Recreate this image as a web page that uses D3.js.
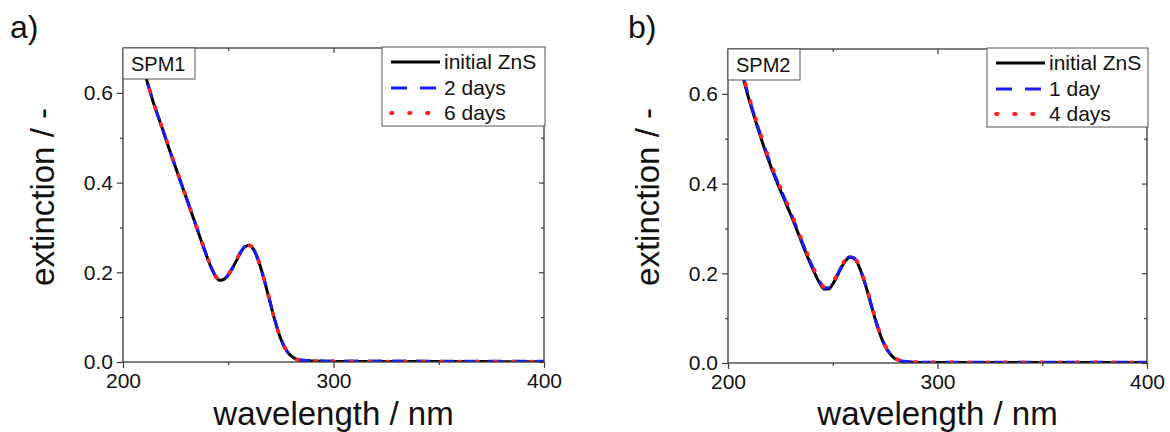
<!DOCTYPE html>
<html>
<head>
<meta charset="utf-8">
<script src="https://cdn.jsdelivr.net/npm/d3@7/dist/d3.min.js"></script>
<style>
  html, body { margin: 0; padding: 0; background: #fff; }
  svg { display: block; font-family: "Liberation Sans", Arial, sans-serif; }
</style>
</head>
<body>
<svg id="chart" width="1170" height="432"></svg>
<script>
// ---------- data ----------
const xMajorTicks = [200, 300, 400];
const xMinorTicks = [250, 350];
const yMajorTicks = [0.0, 0.2, 0.4, 0.6];
const yMinorTicks = [0.1, 0.3, 0.5];
const xDomain = [200, 400];
const yDomain = [0, 0.7];

const panelLabels = ["a)", "b)"];
const sampleNames = ["SPM1", "SPM2"];
const seriesNamesA = ["initial ZnS", "2 days", "6 days"];
const seriesNamesB = ["initial ZnS", "1 day", "4 days"];
const xTitle = "wavelength / nm";
const yTitle = "extinction / -";

const wlA = [206,208,210,212,214,216,218,220,222,224,226,228,230,232,234,236,238,240,242,244,246,248,250,252,254,256,258,260,262,264,266,268,270,272,274,276,278,280,282,284,286,290,295,300,320,340,360,380,400];
const a_initial = [0.722,0.686,0.650,0.616,0.585,0.556,0.530,0.502,0.474,0.447,0.420,0.393,0.367,0.340,0.313,0.286,0.259,0.233,0.209,0.191,0.182,0.184,0.194,0.209,0.227,0.245,0.257,0.260,0.251,0.230,0.201,0.167,0.131,0.095,0.064,0.040,0.023,0.013,0.007,0.004,0.003,0.002,0.0015,0.0012,0.001,0.001,0.001,0.0008,0.0008];
const a_2days   = [0.724,0.688,0.651,0.617,0.586,0.557,0.531,0.503,0.475,0.448,0.421,0.394,0.368,0.341,0.314,0.287,0.260,0.234,0.210,0.192,0.183,0.185,0.195,0.210,0.228,0.246,0.258,0.261,0.252,0.231,0.202,0.168,0.132,0.096,0.065,0.041,0.024,0.014,0.008,0.005,0.004,0.003,0.0025,0.002,0.002,0.002,0.0015,0.0015,0.0015];
const a_6days   = [0.723,0.687,0.651,0.617,0.585,0.557,0.530,0.503,0.475,0.447,0.421,0.394,0.367,0.341,0.313,0.287,0.260,0.234,0.209,0.191,0.183,0.185,0.195,0.210,0.228,0.246,0.258,0.260,0.251,0.230,0.201,0.167,0.131,0.095,0.064,0.040,0.023,0.013,0.007,0.004,0.003,0.002,0.0015,0.0012,0.001,0.001,0.001,0.0008,0.0008];

const wlB = [202,204,206,208,210,212,214,216,218,220,222,224,226,228,230,232,234,236,238,240,242,244,246,248,250,252,254,256,258,260,262,264,266,268,270,272,274,276,278,280,282,284,286,290,295,300,320,340,360,380,400];
const b_initial = [0.735,0.697,0.660,0.622,0.588,0.557,0.527,0.498,0.470,0.444,0.419,0.396,0.374,0.352,0.330,0.307,0.283,0.259,0.236,0.214,0.194,0.176,0.165,0.165,0.176,0.193,0.212,0.227,0.236,0.234,0.221,0.197,0.168,0.135,0.102,0.072,0.047,0.029,0.017,0.009,0.005,0.003,0.002,0.0015,0.001,0.001,0.001,0.001,0.001,0.001,0.001];
const b_1day    = [0.737,0.700,0.663,0.626,0.592,0.561,0.531,0.502,0.474,0.448,0.423,0.400,0.378,0.356,0.334,0.311,0.287,0.263,0.240,0.218,0.198,0.180,0.168,0.168,0.178,0.195,0.214,0.229,0.237,0.235,0.222,0.198,0.169,0.136,0.103,0.073,0.048,0.030,0.018,0.010,0.006,0.004,0.003,0.002,0.0015,0.0015,0.0015,0.0015,0.0015,0.0015,0.0015];
const b_4days   = [0.739,0.702,0.665,0.628,0.594,0.563,0.533,0.504,0.476,0.450,0.425,0.402,0.380,0.358,0.336,0.313,0.289,0.265,0.242,0.220,0.199,0.181,0.169,0.169,0.179,0.196,0.215,0.230,0.238,0.236,0.223,0.199,0.170,0.137,0.104,0.074,0.049,0.031,0.018,0.010,0.006,0.004,0.003,0.002,0.0015,0.0015,0.0015,0.0015,0.0015,0.0015,0.0015];

// ---------- drawing ----------
const svg = d3.select("#chart");
const styles = [
  { color: "#000000", dash: null, legDash: null, width: 3, cap: "butt" },
  { color: "#1a1aff", dash: "14,10", legDash: "16,13", width: 3, cap: "butt" },
  { color: "#ff2020", dash: "1.5,16.5", legDash: "1.5,16.5", width: 3.8, cap: "round" }
];

const panels = [
  { id: "A", label: panelLabels[0], sample: sampleNames[0], names: seriesNamesA,
    wl: wlA, series: [a_initial, a_2days, a_6days],
    left: 123, right: 544, top: 48, bottom: 362,
    labelX: 10, legendX: 382, legendW: 163 },
  { id: "B", label: panelLabels[1], sample: sampleNames[1], names: seriesNamesB,
    wl: wlB, series: [b_initial, b_1day, b_4days],
    left: 728, right: 1147, top: 49, bottom: 363,
    labelX: 628, legendX: 987, legendW: 161 }
];

const axisColor = "#3a3a3a";

panels.forEach(p => {
  const g = svg.append("g");
  const x = d3.scaleLinear().domain(xDomain).range([p.left, p.right]);
  const y = d3.scaleLinear().domain(yDomain).range([p.bottom, p.top]);

  const clipId = "clip" + p.id;
  svg.append("clipPath").attr("id", clipId).append("rect")
    .attr("x", p.left).attr("y", p.top)
    .attr("width", p.right - p.left).attr("height", p.bottom - p.top);

  const line = d3.line()
    .x(d => x(d[0])).y(d => y(d[1]))
    .curve(d3.curveMonotoneX);
  const lg = g.append("g").attr("clip-path", `url(#${clipId})`);
  p.series.forEach((vals, i) => {
    const pts = p.wl.map((w, k) => [w, vals[k]]);
    lg.append("path")
      .datum(pts)
      .attr("d", line)
      .attr("fill", "none")
      .attr("stroke", styles[i].color)
      .attr("stroke-width", styles[i].width)
      .attr("stroke-dasharray", styles[i].dash)
      .attr("stroke-linecap", styles[i].cap)
      .attr("stroke-linejoin", "round");
  });

  const fmtY = d3.format(".1f");
  const axL = g.append("g").attr("transform", `translate(${p.left},0)`)
    .call(d3.axisLeft(y).tickValues(yMajorTicks).tickFormat(fmtY).tickSize(6).tickPadding(4));
  const axLm = g.append("g").attr("transform", `translate(${p.left},0)`)
    .call(d3.axisLeft(y).tickValues(yMinorTicks).tickFormat("").tickSize(3));
  const axB = g.append("g").attr("transform", `translate(0,${p.bottom})`)
    .call(d3.axisBottom(x).tickValues(xMajorTicks).tickFormat(d3.format("d")).tickSize(6).tickPadding(5));
  const axBm = g.append("g").attr("transform", `translate(0,${p.bottom})`)
    .call(d3.axisBottom(x).tickValues(xMinorTicks).tickFormat("").tickSize(3));
  const axT = g.append("g").attr("transform", `translate(0,${p.top})`)
    .call(d3.axisTop(x).tickValues(xMajorTicks).tickFormat("").tickSize(-5));
  const axTm = g.append("g").attr("transform", `translate(0,${p.top})`)
    .call(d3.axisTop(x).tickValues(xMinorTicks).tickFormat("").tickSize(-3));
  const axR = g.append("g").attr("transform", `translate(${p.right},0)`)
    .call(d3.axisRight(y).tickValues(yMajorTicks).tickFormat("").tickSize(-5));
  const axRm = g.append("g").attr("transform", `translate(${p.right},0)`)
    .call(d3.axisRight(y).tickValues(yMinorTicks).tickFormat("").tickSize(-3));

  [axL, axLm, axB, axBm, axT, axTm, axR, axRm].forEach(a => {
    a.select(".domain").remove();
    a.selectAll(".tick line").attr("stroke", axisColor).attr("stroke-width", 1.2);
    a.selectAll("text").attr("fill", "#111").style("font-size", "21px")
      .style("font-family", '"Liberation Sans", Arial, sans-serif');
  });

  g.append("rect")
    .attr("x", p.left).attr("y", p.top)
    .attr("width", p.right - p.left).attr("height", p.bottom - p.top)
    .attr("fill", "none").attr("stroke", axisColor).attr("stroke-width", 1.3);

  const sb = g.append("g");
  sb.append("rect").attr("x", p.left).attr("y", p.top)
    .attr("width", 72).attr("height", 31)
    .attr("fill", "#fff").attr("stroke", "#555").attr("stroke-width", 1);
  sb.append("text").attr("x", p.left + 8).attr("y", p.top + 23)
    .style("font-size", "20px").attr("fill", "#111").text(p.sample);

  const leg = g.append("g");
  const lTop = p.top - 1;
  leg.append("rect").attr("x", p.legendX).attr("y", lTop)
    .attr("width", p.legendW).attr("height", 79)
    .attr("fill", "#fff").attr("stroke", "#555").attr("stroke-width", 1);
  const rowY = [15, 41, 66];
  p.names.forEach((n, i) => {
    const yy = lTop + rowY[i];
    leg.append("line")
      .attr("x1", p.legendX + 9).attr("x2", p.legendX + 58)
      .attr("y1", yy).attr("y2", yy)
      .attr("stroke", styles[i].color)
      .attr("stroke-width", styles[i].width)
      .attr("stroke-dasharray", styles[i].legDash)
      .attr("stroke-linecap", styles[i].cap);
    leg.append("text")
      .attr("x", p.legendX + 62).attr("y", yy + 7)
      .style("font-size", "21px").attr("fill", "#111").text(n);
  });

  g.append("text")
    .attr("x", (p.left + p.right) / 2).attr("y", 425)
    .attr("text-anchor", "middle").style("font-size", "33px").attr("fill", "#111")
    .text(xTitle);
  g.append("text")
    .attr("transform", `translate(${p.left - 69},${197}) rotate(-90)`)
    .attr("text-anchor", "middle").style("font-size", "33px").attr("fill", "#111")
    .text(yTitle);

  g.append("text").attr("x", p.labelX).attr("y", 38)
    .style("font-size", "32px").attr("fill", "#111").text(p.label);
});
</script>
</body>
</html>
